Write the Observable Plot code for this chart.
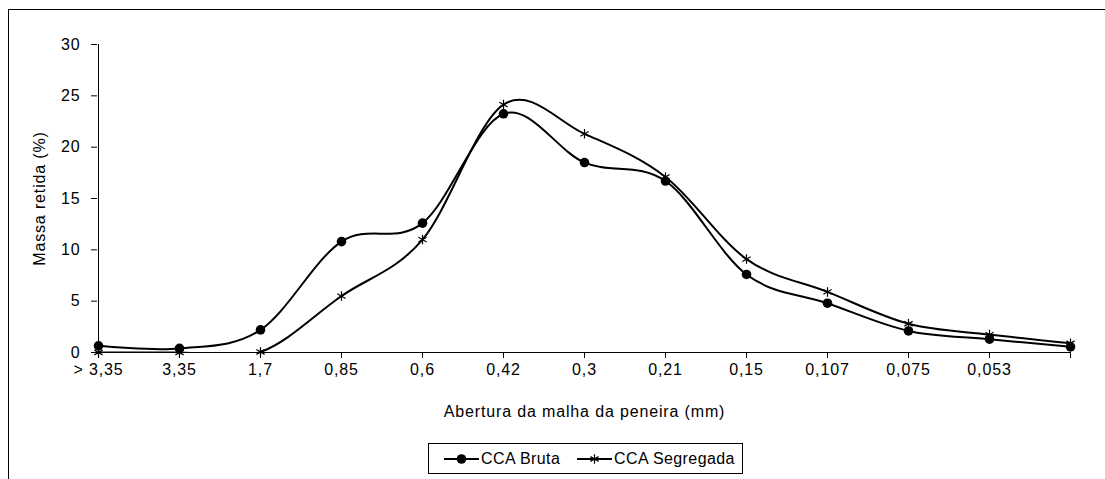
<!DOCTYPE html>
<html>
<head>
<meta charset="utf-8">
<script src="https://cdn.jsdelivr.net/npm/d3@7"></script>
<script src="https://cdn.jsdelivr.net/npm/@observablehq/plot@0.6"></script>
<style>
  html, body { margin: 0; padding: 0; background: #fff; }
  body { width: 1105px; height: 479px; overflow: hidden; font-family: "Liberation Sans", Arial, sans-serif; }
  #wrap { position: relative; width: 1105px; height: 479px; }
  #frame { position: absolute; left: 8px; top: 9px; right: -5px; bottom: -5px; border-left: 1.5px solid #000; border-top: 1.5px solid #000; }
  #chart { position: absolute; left: 0; top: 0; }
  #chart svg text { letter-spacing: 0.85px; }
  #legend { position: absolute; left: 428px; top: 443px; width: 313px; height: 29px; border: 1px solid #000; background: #fff;
            font-size: 16px; color: #000; letter-spacing: 0.4px; }
  #legend .item { position: absolute; top: 0; height: 29px; display: flex; align-items: center; }
  #legend svg { display: block; margin-right: 2px; }
</style>
</head>
<body>
<div id="wrap">
  <div id="frame"></div>
  <div id="chart"></div>
  <div id="legend"></div>
</div>
<script>
const categories = ["> 3,35", "3,35", "1,7", "0,85", "0,6", "0,42", "0,3", "0,21", "0,15", "0,107", "0,075", "0,053", ""];
const bruta      = [0.65, 0.4, 2.2, 10.8, 12.6, 23.25, 18.5, 16.7, 7.6, 4.8, 2.1, 1.3, 0.55];
const segregada  = [0, 0, 0.05, 5.5, 11.0, 24.15, 21.3, 17.1, 9.1, 5.9, 2.8, 1.75, 0.9];
const seriesNames = ["CCA Bruta", "CCA Segregada"];
const yTicks = [0, 5, 10, 15, 20, 25, 30];

const rows = [];
categories.forEach((c, i) => {
  rows.push({cat: c, value: bruta[i], series: seriesNames[0]});
  rows.push({cat: c, value: segregada[i], series: seriesNames[1]});
});
const rowsB = rows.filter(d => d.series === seriesNames[0]);
const rowsS = rows.filter(d => d.series === seriesNames[1]);

const font = "Liberation Sans, Arial, sans-serif";

const chart = Plot.plot({
  width: 1105,
  height: 430,
  marginLeft: 97,
  marginRight: 34,
  marginTop: 44,
  marginBottom: 78,
  style: {fontFamily: font, fontSize: "16px", color: "#000", background: "transparent", overflow: "visible"},
  x: {type: "point", domain: categories, padding: 0},
  y: {domain: [0, 30]},
  marks: [
    Plot.axisY({ticks: yTicks, tickSize: 6, tickPadding: 11, label: "Massa retida (%)", labelAnchor: "center", labelArrow: "none", labelOffset: 64, fontSize: 16}),
    Plot.axisX({tickSize: 6, tickPadding: 5, label: "Abertura da malha da peneira (mm)", labelAnchor: "center", labelArrow: "none", labelOffset: 64, fontSize: 16, tickFormat: d => d}),
    Plot.ruleY([0], {stroke: "#000", strokeWidth: 1}),
    Plot.ruleX([categories[0]], {y1: 0, y2: 30, stroke: "#000", strokeWidth: 1}),
    Plot.line(rowsS, {x: "cat", y: "value", curve: "cardinal", stroke: "#000", strokeWidth: 2, clip: true}),
    Plot.line(rowsB, {x: "cat", y: "value", curve: "cardinal", stroke: "#000", strokeWidth: 2, clip: true}),
    Plot.dot(rowsS, {x: "cat", y: "value", symbol: "asterisk", r: 4.5, stroke: "#000", strokeWidth: 1.2}),
    Plot.dot(rowsB, {x: "cat", y: "value", symbol: "circle", r: 4.8, fill: "#000", stroke: "none"})
  ]
});
document.getElementById("chart").appendChild(chart);

// legend (positions relative to legend box)
const legendLeft = [15, 148];
const legend = d3.select("#legend");
seriesNames.forEach((name, i) => {
  const item = legend.append("div").attr("class", "item").style("left", legendLeft[i] + "px");
  const svg = item.append("svg").attr("width", 35).attr("height", 14);
  svg.append("line").attr("x1", 0).attr("x2", 35).attr("y1", 7).attr("y2", 7).attr("stroke", "#000").attr("stroke-width", 2);
  if (i === 0) {
    svg.append("circle").attr("cx", 17.5).attr("cy", 7).attr("r", 4.8).attr("fill", "#000");
  } else {
    const s = d3.symbol(d3.symbolAsterisk, 4.5 * 4.5 * Math.PI)();
    svg.append("path").attr("d", s).attr("transform", "translate(17.5,7)").attr("stroke", "#000").attr("stroke-width", 1.2).attr("fill", "none");
  }
  item.append("span").text(name);
});
</script>
</body>
</html>
